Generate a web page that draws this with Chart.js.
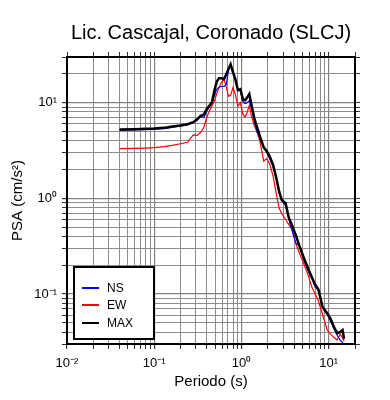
<!DOCTYPE html>
<html><head><meta charset="utf-8">
<script src="https://cdn.jsdelivr.net/npm/chart.js@4/dist/chart.umd.min.js"></script>
<style>html,body{margin:0;padding:0;background:#fff;}#wrap{width:390px;height:400px;position:relative;}</style>
</head><body><div id="wrap"><canvas id="c" width="390" height="400"></canvas></div>
<script>
const titleText = 'Lic. Cascajal, Coronado (SLCJ)';
const xTitle = 'Periodo (s)';
const yTitle = 'PSA (cm/s²)';
const periods = [0.04,0.06,0.08,0.1,0.13,0.16,0.2,0.24,0.28,0.31,0.34,0.37,0.40,0.43,0.46,0.49,0.52,0.55,0.59,0.63,0.67,0.71,0.75,0.80,0.85,0.91,0.97,1.04,1.10,1.16,1.23,1.30,1.40,1.50,1.62,1.80,1.95,2.1,2.3,2.5,2.7,2.9,3.2,3.5,3.8,4.2,4.6,5.2,5.8,6.4,7.0,7.6,8.5,9.6,10.5,11.5,12.5,13.5,14.4,15];
const nsValues = [5.15,5.18,5.22,5.27,5.36,5.52,5.7,5.88,6.15,6.55,7.15,7.0,8.2,9.0,10.0,12.0,13.8,14.5,14.8,14.8,15.5,22.0,25.0,20.5,17.5,13.3,13.5,10.2,9.8,10.0,10.5,9.0,6.5,5.0,4.3,3.35,3.05,2.6,2.15,1.6,1.15,0.93,0.85,0.6,0.46,0.34,0.32,0.225,0.175,0.145,0.118,0.11,0.071,0.061,0.052,0.043,0.037,0.033,0.031,0.0295];
const ewValues = [3.31,3.33,3.35,3.38,3.47,3.58,3.72,3.85,4.6,4.55,4.9,5.5,7.0,8.3,9.3,10.5,12.4,14.2,16.3,17.6,14.5,11.7,11.9,14.4,12.2,9.2,10.0,7.5,7.1,7.9,9.4,7.2,5.8,5.0,4.0,2.45,2.6,2.3,1.72,1.13,0.79,0.69,0.6,0.53,0.47,0.335,0.27,0.205,0.158,0.118,0.1,0.085,0.061,0.042,0.038,0.035,0.033,0.038,0.035,0.032];
const maxValues = [5.25,5.28,5.32,5.36,5.45,5.62,5.78,5.95,6.25,6.7,7.3,7.5,8.6,9.3,10.2,13.5,16.5,18.0,18.0,17.6,19.8,22.5,25.2,20.7,17.6,13.5,13.8,10.8,10.6,11.3,12.3,9.5,6.9,5.6,4.5,3.4,3.1,2.75,2.25,1.65,1.18,0.96,0.89,0.62,0.52,0.41,0.32,0.236,0.185,0.15,0.125,0.112,0.073,0.063,0.055,0.045,0.039,0.040,0.042,0.034];
const seriesNames = ['NS','EW','MAX'];
const seriesColors = ['#0000ff','#ff0000','#000000'];
const xRange = [0.01, 20];
const yRange = [0.03, 30];
const xTickValues = [0.01, 0.1, 1, 10];
const xTickLabels = ['10⁻²','10⁻¹','10⁰','10¹'];
const yTickValues = [0.1, 1, 10];
const yTickLabels = ['10⁻¹','10⁰','10¹'];

const FONT = "'Liberation Sans', Arial, Helvetica, sans-serif";

function logTicks(min, max) {
  const out = [];
  for (let e = Math.floor(Math.log10(min)); e <= Math.ceil(Math.log10(max)); e++) {
    for (let k = 1; k <= 9; k++) {
      const v = +(k * Math.pow(10, e)).toPrecision(6);
      if (v >= min * 0.9999 && v <= max * 1.0001) out.push({value: v});
    }
  }
  return out;
}
function isMajor(v) { const l = Math.log10(v); return Math.abs(l - Math.round(l)) < 1e-6; }
function labelFor(values, labels) {
  return function (val) {
    const i = values.findIndex(t => Math.abs(t - val) / t < 1e-6);
    return i >= 0 ? labels[i] : '';
  };
}
const gridColor = ctx => (ctx.tick && isMajor(ctx.tick.value)) ? '#808080' : '#8c8c8c';
const gridWidth = ctx => (ctx.tick && isMajor(ctx.tick.value)) ? 1.2 : 1;

const pts = vals => periods.map((p, i) => ({x: p, y: vals[i]}));

const framePlugin = {
  id: 'frame',
  afterDraw(chart) {
    const {ctx, chartArea: a} = chart;
    ctx.save();
    ctx.strokeStyle = '#000';
    ctx.lineWidth = 2;
    ctx.strokeRect(a.left, a.top, a.right - a.left, a.bottom - a.top);
    // legend box
    const bx = a.left + 7, by = a.bottom - 77, bw = 80, bh = 72;
    ctx.fillStyle = '#fff';
    ctx.fillRect(bx, by, bw, bh);
    ctx.strokeRect(bx, by, bw, bh);
    const rows = [21, 38, 56];
    ctx.font = '12px ' + FONT;
    ctx.textBaseline = 'middle';
    chart.data.datasets.forEach((ds, i) => {
      const y = by + rows[i];
      ctx.strokeStyle = ds.borderColor;
      ctx.lineWidth = 2;
      ctx.beginPath();
      ctx.moveTo(bx + 8, y);
      ctx.lineTo(bx + 25, y);
      ctx.stroke();
      ctx.fillStyle = '#000';
      ctx.fillText(ds.label, bx + 33, y + 0.5);
    });
    ctx.restore();
  }
};

const baseTicks = {font: {family: FONT, size: 13}, color: '#000', autoSkip: false, maxRotation: 0, minRotation: 0};

new Chart(document.getElementById('c'), {
  type: 'line',
  data: {
    datasets: [
      {label: seriesNames[0], data: pts(nsValues), borderColor: seriesColors[0], borderWidth: 1.2, order: 1},
      {label: seriesNames[1], data: pts(ewValues), borderColor: seriesColors[1], borderWidth: 1.2, order: 2},
      {label: seriesNames[2], data: pts(maxValues), borderColor: seriesColors[2], borderWidth: 2.5, order: 0}
    ]
  },
  options: {
    responsive: false,
    animation: false,
    devicePixelRatio: 1,
    layout: {padding: {left: 0, right: 0, top: 0, bottom: 0}},
    elements: {point: {radius: 0}, line: {tension: 0, fill: false}},
    plugins: {
      legend: {display: false},
      tooltip: {enabled: false},
      title: {display: true, fullSize: false, text: titleText, color: '#000', font: {family: FONT, size: 20, weight: 'normal'}, padding: {top: 21, bottom: 7}}
    },
    scales: {
      x: {
        type: 'logarithmic', position: 'bottom', min: xRange[0], max: xRange[1],
        afterBuildTicks: s => { s.ticks = logTicks(xRange[0], xRange[1]); },
        afterFit: s => { s.height = 56; },
        ticks: Object.assign({}, baseTicks, {callback: labelFor(xTickValues, xTickLabels), padding: 7}),
        grid: {color: gridColor, lineWidth: gridWidth, tickLength: 5, tickColor: '#333'},
        border: {display: true, color: '#000', width: 2},
        title: {display: true, text: xTitle, color: '#000', font: {family: FONT, size: 15}, padding: {top: 0, bottom: 9}}
      },
      x2: {
        type: 'logarithmic', position: 'top', min: xRange[0], max: xRange[1],
        afterBuildTicks: s => { s.ticks = logTicks(xRange[0], xRange[1]); },
        afterFit: s => { s.height = 5; },
        ticks: {display: false},
        grid: {drawOnChartArea: false, tickLength: 5, tickColor: '#333'},
        border: {display: true, color: '#000', width: 2}
      },
      y: {
        type: 'logarithmic', position: 'left', min: yRange[0], max: yRange[1],
        afterBuildTicks: s => { s.ticks = logTicks(yRange[0], yRange[1]); },
        afterFit: s => { s.width = 67; },
        ticks: Object.assign({}, baseTicks, {callback: labelFor(yTickValues, yTickLabels), padding: 5}),
        grid: {color: gridColor, lineWidth: gridWidth, tickLength: 5, tickColor: '#333'},
        border: {display: true, color: '#000', width: 2},
        title: {display: true, text: yTitle, color: '#000', font: {family: FONT, size: 15}, padding: {top: 9, bottom: 0}}
      },
      y2: {
        type: 'logarithmic', position: 'right', min: yRange[0], max: yRange[1],
        afterBuildTicks: s => { s.ticks = logTicks(yRange[0], yRange[1]); },
        afterFit: s => { s.width = 35; },
        ticks: {display: false},
        grid: {drawOnChartArea: false, tickLength: 5, tickColor: '#333'},
        border: {display: true, color: '#000', width: 2}
      }
    }
  },
  plugins: [framePlugin]
});
</script></body></html>
